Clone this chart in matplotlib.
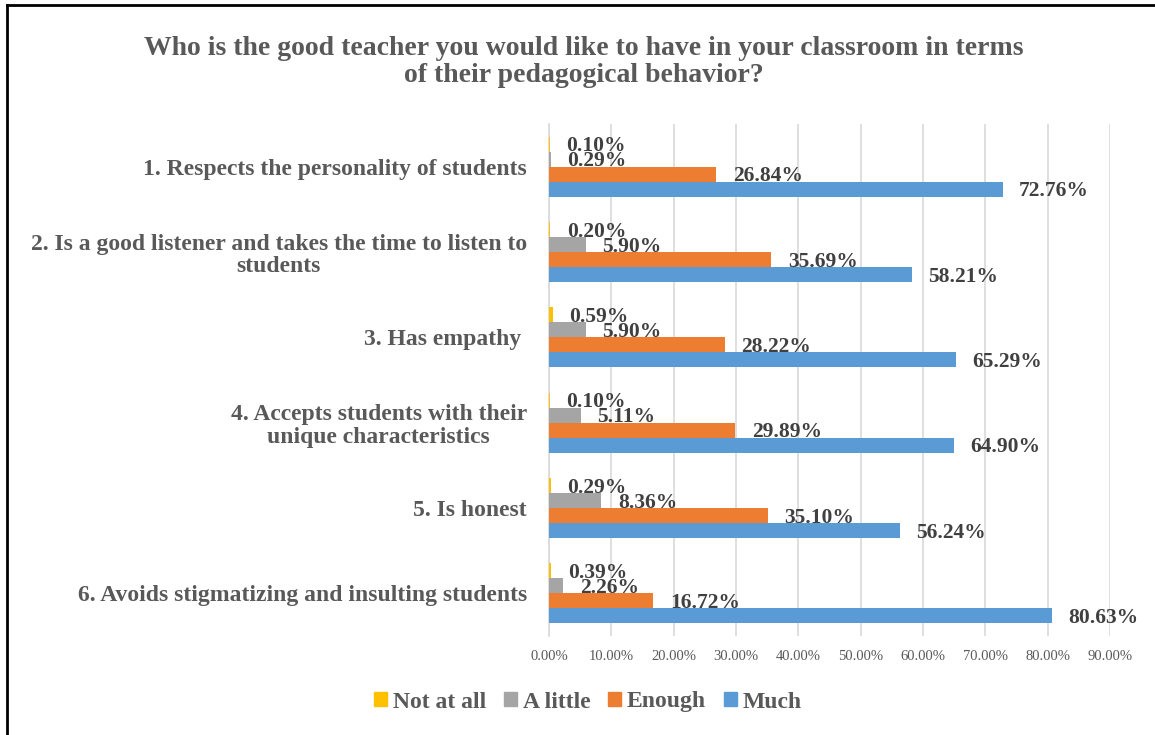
import matplotlib.pyplot as plt
from matplotlib.lines import Line2D
import numpy as np

categories = [
    "1. Respects the personality of students",
    "2. Is a good listener and takes the time to listen to\nstudents",
    "3. Has empathy ",
    "4. Accepts students with their\nunique characteristics",
    "5. Is honest",
    "6. Avoids stigmatizing and insulting students",
]
series = ["Not at all", "A little", "Enough", "Much"]
not_at_all = [0.10, 0.20, 0.59, 0.10, 0.29, 0.39]
a_little = [0.29, 5.90, 5.90, 5.11, 8.36, 2.26]
enough = [26.84, 35.69, 28.22, 29.89, 35.10, 16.72]
much = [72.76, 58.21, 65.29, 64.90, 56.24, 80.63]
xticks = [0, 10, 20, 30, 40, 50, 60, 70, 80, 90]

colors = ["#FFC000", "#A5A5A5", "#ED7D31", "#5B9BD5"]
text_col = "#595959"
serif = ["Liberation Serif", "DejaVu Serif"]

plt.rcParams['font.family'] = serif

fig = plt.figure(figsize=(11.55, 7.35), dpi=100)
ax = fig.add_axes([549 / 1155, 1 - 636 / 735, (1110 - 549) / 1155, (636 - 124) / 735])

y = np.arange(len(categories))
h = 0.176
all_vals = [not_at_all, a_little, enough, much]
for i, vals in enumerate(all_vals):
    pos = y + (i - 1.5) * h
    ax.barh(pos, vals, height=h, color=colors[i], label=series[i], zorder=3)
    for p, v in zip(pos, vals):
        ax.annotate("%.2f%%" % v, (v, p), xytext=(12, -1.5), textcoords="offset points",
                    ha="left", va="center", fontsize=15.5, fontweight="bold",
                    color="#404040", zorder=5)

ax.set_xlim(0, 90)
ax.set_ylim(len(categories) - 0.5, -0.5)
ax.set_xticks(xticks)
ax.set_xticklabels(["%.2f%%" % t for t in xticks], fontsize=10.5, color=text_col)
ax.set_yticks(y)
ax.set_yticklabels(categories, fontsize=17, fontweight="bold", color=text_col,
                   multialignment="center", linespacing=1.1)
ax.tick_params(axis="y", length=0, pad=16)
ax.tick_params(axis="x", length=0, pad=10)
ax.grid(axis="x", color="#D9D9D9", linewidth=1.2, zorder=0)
for s in ["top", "right", "bottom"]:
    ax.spines[s].set_visible(False)
ax.spines["left"].set_color("#D9D9D9")
ax.spines["left"].set_linewidth(1.2)

fig.text(584 / 1155, 1 - 62 / 735,
         "Who is the good teacher you would like to have in your classroom in terms\nof their pedagogical behavior?",
         ha="center", va="center", fontsize=20, fontweight="bold", color=text_col,
         linespacing=1.15)

handles = [plt.Rectangle((0, 0), 1, 1, color=c) for c in colors]
fig.legend(handles, series, loc="center", bbox_to_anchor=(588 / 1155, 1 - 702 / 735),
           ncol=4, frameon=False, handlelength=0.55, handleheight=0.55, handletextpad=0.25,
           columnspacing=0.75, prop={"family": serif, "weight": "bold", "size": 17},
           labelcolor=text_col)

# chart border (top and left edges visible in the crop)
fig.add_artist(Line2D([7 / 1155, 1], [1 - 5 / 735, 1 - 5 / 735], color="black", linewidth=2,
                      transform=fig.transFigure))
fig.add_artist(Line2D([7 / 1155, 7 / 1155], [0, 1 - 5 / 735], color="black", linewidth=2,
                      transform=fig.transFigure))

fig.savefig("out.png", dpi=100)
